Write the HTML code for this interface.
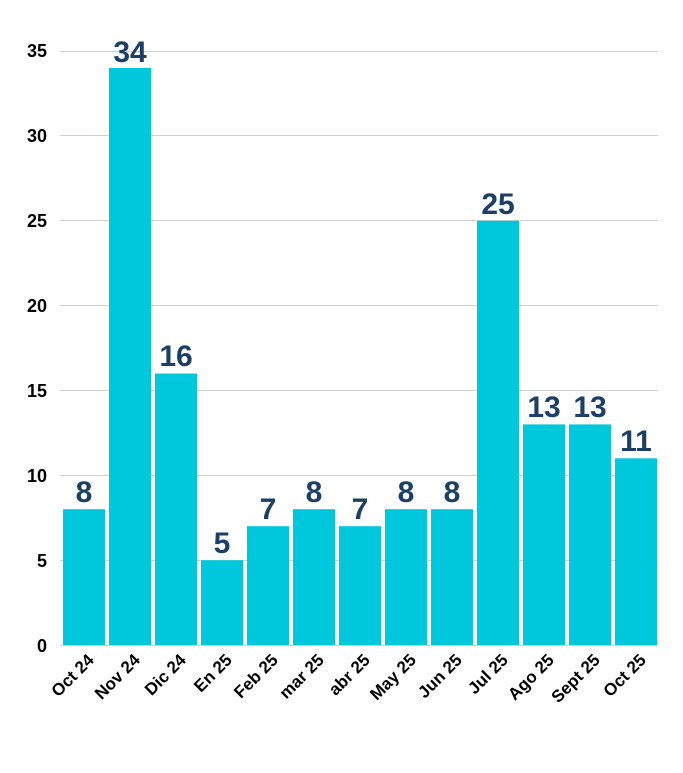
<!DOCTYPE html>
<html><head><style>body{margin:0;background:#fff}</style></head><body>
<svg width="683" height="768" xmlns="http://www.w3.org/2000/svg" font-family="Liberation Sans, sans-serif" font-weight="bold">
<g stroke="#d0d0d0" stroke-width="1">
<line x1="60" x2="658" y1="51.5" y2="51.5"/><line x1="60" x2="658" y1="135.5" y2="135.5"/><line x1="60" x2="658" y1="220.5" y2="220.5"/><line x1="60" x2="658" y1="305.5" y2="305.5"/><line x1="60" x2="658" y1="390.5" y2="390.5"/><line x1="60" x2="658" y1="475.5" y2="475.5"/><line x1="60" x2="658" y1="560.5" y2="560.5"/><line x1="60" x2="658" y1="645.5" y2="645.5"/>
</g>
<g font-size="18" text-anchor="end" fill="#000">
<text x="47" y="57">35</text><text x="47" y="142">30</text><text x="47" y="227">25</text><text x="47" y="312">20</text><text x="47" y="397">15</text><text x="47" y="482">10</text><text x="47" y="567">5</text><text x="47" y="652">0</text>
</g>
<g fill="#00C8DC">
<rect x="63" y="509.2" width="42" height="135.8"/>
<rect x="109" y="68" width="42" height="577"/>
<rect x="155" y="373.5" width="42" height="271.5"/>
<rect x="201" y="560.2" width="42" height="84.8"/>
<rect x="247" y="526.2" width="42" height="118.8"/>
<rect x="293" y="509.2" width="42" height="135.8"/>
<rect x="339" y="526.2" width="42" height="118.8"/>
<rect x="385" y="509.2" width="42" height="135.8"/>
<rect x="431" y="509.2" width="42" height="135.8"/>
<rect x="477" y="220.8" width="42" height="424.2"/>
<rect x="523" y="424.4" width="42" height="220.6"/>
<rect x="569" y="424.4" width="42" height="220.6"/>
<rect x="615" y="458.3" width="42" height="186.7"/>
</g>
<g font-size="30" fill="#1B3F66" text-anchor="middle">
<text x="84" y="502">8</text>
<text x="130" y="62">34</text>
<text x="176" y="366">16</text>
<text x="222" y="553">5</text>
<text x="268" y="519">7</text>
<text x="314" y="502">8</text>
<text x="360" y="519">7</text>
<text x="406" y="502">8</text>
<text x="452" y="502">8</text>
<text x="498" y="214">25</text>
<text x="544" y="417">13</text>
<text x="590" y="417">13</text>
<text x="636" y="451">11</text>
</g>
<g font-size="17" text-anchor="end" fill="#000">
<text transform="translate(95,661) rotate(-45)">Oct 24</text>
<text transform="translate(141,661) rotate(-45)">Nov 24</text>
<text transform="translate(187,661) rotate(-45)">Dic 24</text>
<text transform="translate(233,661) rotate(-45)">En 25</text>
<text transform="translate(279,661) rotate(-45)">Feb 25</text>
<text transform="translate(325,661) rotate(-45)">mar 25</text>
<text transform="translate(371,661) rotate(-45)">abr 25</text>
<text transform="translate(417,661) rotate(-45)">May 25</text>
<text transform="translate(463,661) rotate(-45)">Jun 25</text>
<text transform="translate(509,661) rotate(-45)">Jul 25</text>
<text transform="translate(555,661) rotate(-45)">Ago 25</text>
<text transform="translate(601,661) rotate(-45)">Sept 25</text>
<text transform="translate(647,661) rotate(-45)">Oct 25</text>
</g>
</svg>
</body></html>
